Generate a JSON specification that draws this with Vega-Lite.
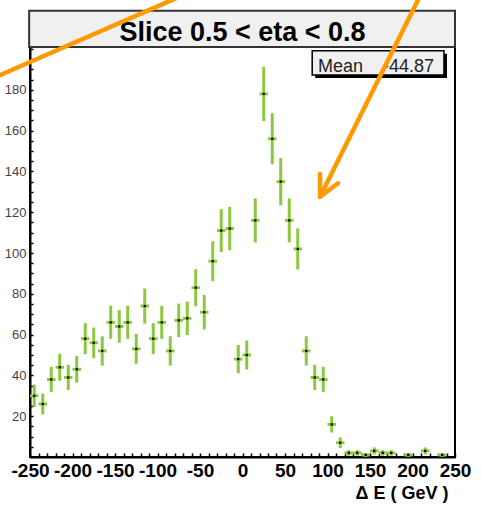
{
  "$schema": "https://vega.github.io/schema/vega-lite/v6.json",
  "width": 425,
  "height": 410,
  "autosize": {"type": "none"},
  "padding": {"left": 30, "top": 47, "right": 26, "bottom": 48},
  "background": "white",
  "config": {
    "view": {"stroke": "black", "strokeWidth": 2},
    "font": "Liberation Sans",
    "axis": {"labelOverlap": false, "labelFlush": false, "labelBound": false, "grid": false}
  },
  "datasets": {
    "hist": [
      {"e": -245, "n": 30, "err": 5.5}, {"e": -235, "n": 26, "err": 5.1}, {"e": -225, "n": 38, "err": 6.2},
      {"e": -215, "n": 44, "err": 6.6}, {"e": -205, "n": 39, "err": 6.2}, {"e": -195, "n": 43, "err": 6.6},
      {"e": -185, "n": 58, "err": 7.6}, {"e": -175, "n": 56, "err": 7.5}, {"e": -165, "n": 52, "err": 7.2},
      {"e": -155, "n": 66, "err": 8.1}, {"e": -145, "n": 64, "err": 8.0}, {"e": -135, "n": 66, "err": 8.1},
      {"e": -125, "n": 53, "err": 7.3}, {"e": -115, "n": 74, "err": 8.6}, {"e": -105, "n": 58, "err": 7.6},
      {"e": -95, "n": 66, "err": 8.1}, {"e": -85, "n": 52, "err": 7.2}, {"e": -75, "n": 67, "err": 8.2},
      {"e": -65, "n": 68, "err": 8.2}, {"e": -55, "n": 83, "err": 9.1}, {"e": -45, "n": 71, "err": 8.4},
      {"e": -35, "n": 96, "err": 9.8}, {"e": -25, "n": 111, "err": 10.5}, {"e": -15, "n": 112, "err": 10.6},
      {"e": -5, "n": 48, "err": 6.9}, {"e": 5, "n": 50, "err": 7.1}, {"e": 15, "n": 116, "err": 10.8},
      {"e": 25, "n": 178, "err": 13.3}, {"e": 35, "n": 156, "err": 12.5}, {"e": 45, "n": 135, "err": 11.6},
      {"e": 55, "n": 116, "err": 10.8}, {"e": 65, "n": 102, "err": 10.1}, {"e": 75, "n": 52, "err": 7.2},
      {"e": 85, "n": 39, "err": 6.2}, {"e": 95, "n": 38, "err": 6.2}, {"e": 105, "n": 16, "err": 4.0},
      {"e": 115, "n": 7, "err": 2.6}, {"e": 125, "n": 2, "err": 1.4}, {"e": 135, "n": 2, "err": 1.4},
      {"e": 145, "n": 1, "err": 1.0}, {"e": 155, "n": 3, "err": 1.7}, {"e": 165, "n": 2, "err": 1.4},
      {"e": 175, "n": 2, "err": 1.4}, {"e": 195, "n": 1, "err": 1.0}, {"e": 215, "n": 3, "err": 1.7},
      {"e": 235, "n": 1, "err": 1.0}
    ]
  },
  "encoding": {
    "x": {
      "field": "e", "type": "quantitative",
      "scale": {"domain": [-250, 250], "nice": false, "zero": false},
      "title": "Δ E ( GeV )",
      "axis": {
        "values": [-250,-240,-230,-220,-210,-200,-190,-180,-170,-160,-150,-140,-130,-120,-110,-100,-90,-80,-70,-60,-50,-40,-30,-20,-10,0,10,20,30,40,50,60,70,80,90,100,110,120,130,140,150,160,170,180,190,200,210,220,230,240,250],
        "labelExpr": "datum.value % 50 == 0 ? '' + datum.value : ''",
        "tickSize": -4,
        "encoding": {"ticks": {"update": {"y2": {"signal": "datum.value % 50 == 0 ? -9 : -5"}}}},
        "tickColor": "black", "tickWidth": 1.5,
        "domainColor": "black", "domainWidth": 2,
        "labelFont": "Liberation Sans", "labelFontSize": 19, "labelFontWeight": "bold", "labelColor": "black",
        "labelPadding": 8, "labelFlush": false, "labelOverlap": false, "labelBound": false,
        "grid": false,
        "titleFont": "Liberation Sans", "titleFontSize": 18, "titleFontWeight": "bold",
        "titleColor": "black", "titleAnchor": "end", "titleAlign": "right", "titleX": 418, "titlePadding": 4
      }
    },
    "y": {
      "field": "n", "type": "quantitative",
      "scale": {"domain": [0, 201], "nice": false},
      "title": null,
      "axis": {
        "values": [0,5,10,15,20,25,30,35,40,45,50,55,60,65,70,75,80,85,90,95,100,105,110,115,120,125,130,135,140,145,150,155,160,165,170,175,180,185,190,195,200],
        "labelExpr": "datum.value % 20 == 0 && datum.value > 0 && datum.value < 200 ? '' + datum.value : ''",
        "tickSize": -3,
        "encoding": {"ticks": {"update": {"x2": {"signal": "datum.value % 20 == 0 ? 5 : 3"}}}},
        "tickColor": "black", "tickWidth": 1.5,
        "domainColor": "black", "domainWidth": 2,
        "labelFont": "Liberation Sans", "labelFontSize": 13, "labelColor": "#444444",
        "labelPadding": 7, "labelFlush": false, "labelOverlap": false, "labelBound": false,
        "grid": false
      }
    }
  },
  "layer": [
    {
      "data": {"name": "hist"},
      "mark": {"type": "tick", "orient": "horizontal", "color": "#8dc63f", "thickness": 3, "size": 8.5, "opacity": 1}
    },
    {
      "data": {"name": "hist"},
      "mark": {"type": "errorbar", "thickness": 3, "color": "#8dc63f"},
      "encoding": {"yError": {"field": "err"}}
    },
    {
      "data": {"name": "hist"},
      "mark": {"type": "square", "size": 5, "color": "black", "opacity": 1, "filled": true}
    },
    {
      "data": {"values": [{"e": 85.6, "e2": 240.6, "n": 185.8, "n2": 197.7}]},
      "mark": {"type": "rect", "fill": "black"},
      "encoding": {"x2": {"field": "e2"}, "y2": {"field": "n2"}}
    },
    {
      "data": {"values": [{"e": 82, "e2": 237, "n": 187.3, "n2": 199.2}]},
      "mark": {"type": "rect", "fill": "#f0f0f0", "stroke": "black", "strokeWidth": 1.5},
      "encoding": {"x2": {"field": "e2"}, "y2": {"field": "n2"}}
    },
    {
      "data": {"values": [{"label": "Mean", "e": 88.8, "n": 188.9}]},
      "mark": {"type": "text", "align": "left", "baseline": "alphabetic", "fontSize": 18, "font": "Liberation Sans", "color": "#222222"},
      "encoding": {"text": {"field": "label"}}
    },
    {
      "data": {"values": [{"label": "-44.87", "e": 225.3, "n": 188.9}]},
      "mark": {"type": "text", "align": "right", "baseline": "alphabetic", "fontSize": 18, "font": "Liberation Sans", "color": "#222222"},
      "encoding": {"text": {"field": "label"}}
    },
    {
      "data": {"values": [{"e": -251, "e2": 250, "n": 201, "n2": 218.8}]},
      "mark": {"type": "rect", "fill": "#f0f0f0", "stroke": "#333333", "strokeWidth": 2},
      "encoding": {"x2": {"field": "e2"}, "y2": {"field": "n2"}}
    },
    {
      "data": {"values": [{"label": "Slice 0.5 < eta < 0.8", "e": 0, "n": 204.1}]},
      "mark": {"type": "text", "align": "center", "baseline": "alphabetic", "fontSize": 27, "fontWeight": "bold", "font": "Liberation Sans", "color": "black"},
      "encoding": {"text": {"field": "label"}}
    },
    {
      "data": {"values": [
        {"e": -294.7, "n": 185.5, "e2": -69.4, "n2": 226.5},
        {"e": 209.4, "n": 226.5, "e2": 91.2, "n2": 127.6},
        {"e": 91.2, "n": 138.7, "e2": 91.2, "n2": 127.6},
        {"e": 112.4, "n": 134.2, "e2": 91.2, "n2": 127.6}
      ]},
      "mark": {"type": "rule", "color": "#ff9900", "strokeWidth": 4.5, "strokeCap": "round"},
      "encoding": {"x2": {"field": "e2"}, "y2": {"field": "n2"}}
    }
  ]
}
